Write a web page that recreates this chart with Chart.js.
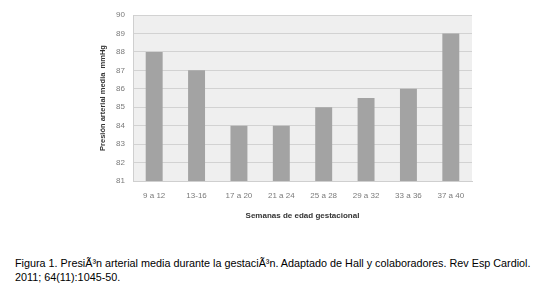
<!DOCTYPE html>
<html>
<head>
<meta charset="utf-8">
<script src="https://cdn.jsdelivr.net/npm/chart.js@4"></script>
<style>
    html, body { margin: 0; padding: 0; background: #fff; }
    body { width: 542px; height: 289px; position: relative; overflow: hidden; }
    #chartBox { position: absolute; left: 0; top: 0; width: 542px; height: 225px; }
    #caption {
        position: absolute; left: 15px; top: 256px; width: 530px;
        font-family: "Liberation Sans", Arial, sans-serif; font-size: 10.8px;
        line-height: 14px; color: #000;
    }
</style>
</head>
<body>
<div id="chartBox"><canvas id="mapChart" width="542" height="225"></canvas></div>
<div id="caption">Figura 1. PresiÃ³n arterial media durante la gestaciÃ³n. Adaptado de Hall y colaboradores. Rev Esp Cardiol.<br>2011; 64(11):1045-50.</div>
<script>
// data
const weeks = ['9 a 12', '13-16', '17 a 20', '21 a 24', '25 a 28', '29 a 32', '33 a 36', '37 a 40'];
const pressure = [88, 87, 84, 84, 85, 85.5, 86, 89];
const yMin = 81;
const yMax = 90;

// grey plot background
const plotBackground = {
    id: 'plotBackground',
    beforeDraw(chart) {
        const { ctx, chartArea } = chart;
        ctx.save();
        ctx.fillStyle = '#efefef';
        ctx.fillRect(chartArea.left, chartArea.top, chartArea.width, chartArea.height);
        ctx.restore();
    }
};

const labelFont = { family: '"Liberation Sans", Arial, sans-serif', size: 8 };

new Chart(document.getElementById('mapChart').getContext('2d'), {
    type: 'bar',
    data: {
        labels: weeks,
        datasets: [{
            data: pressure,
            backgroundColor: '#a3a3a3',
            borderWidth: 0,
            barPercentage: 0.8,
            categoryPercentage: 0.5
        }]
    },
    options: {
        responsive: false,
        animation: false,
        layout: { padding: { left: 98, top: 15, right: 70, bottom: 0 } },
        plugins: {
            legend: { display: false },
            tooltip: { enabled: false }
        },
        scales: {
            x: {
                grid: { display: false, drawTicks: false },
                border: { color: '#cfcfcf' },
                ticks: { color: '#7a7a7a', font: labelFont, padding: 10, maxRotation: 0 },
                title: {
                    display: true,
                    text: 'Semanas de edad gestacional',
                    color: '#333',
                    font: { family: labelFont.family, size: 8, weight: 'bold' },
                    padding: { top: 8 }
                },
                afterFit(scale) { scale.height = 44; }
            },
            y: {
                min: yMin,
                max: yMax,
                grid: { color: '#d2d2d2', drawTicks: false },
                border: { color: '#cfcfcf' },
                ticks: { stepSize: 1, color: '#7a7a7a', font: labelFont, padding: 8 },
                title: {
                    display: true,
                    text: 'Presión arterial media  mmHg',
                    color: '#333',
                    font: { family: labelFont.family, size: 7.5, weight: 'bold' },
                    padding: 0
                },
                afterFit(scale) { scale.width = 35; }
            }
        }
    },
    plugins: [plotBackground]
});
</script>
</body>
</html>
